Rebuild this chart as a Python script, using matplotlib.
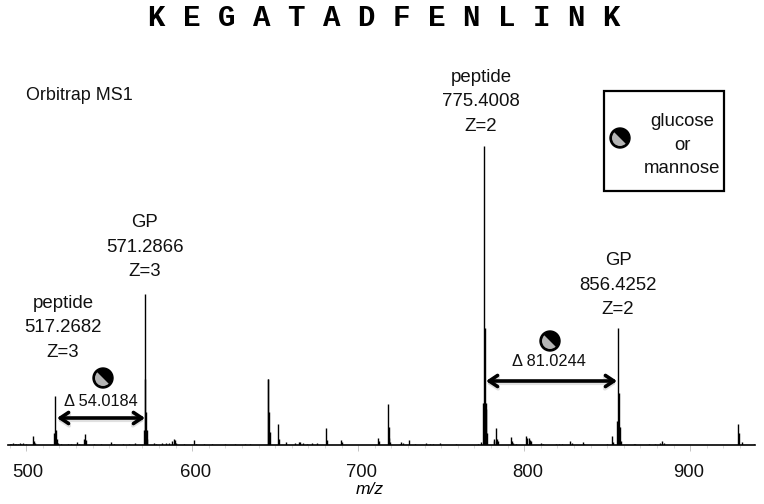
import matplotlib
matplotlib.use("Agg")
import matplotlib.pyplot as plt
from matplotlib.patches import Circle, Wedge, Rectangle
from matplotlib.transforms import ScaledTranslation

plt.rcParams['font.family'] = ['Liberation Sans', 'DejaVu Sans']

# peaks, intensity relative to the base peak
mz = [490, 491, 492, 493, 494, 495, 496, 497, 498, 500, 504, 504.6, 505.2,
      516.9, 517.27, 517.8, 518.3, 519, 521, 525, 527, 530.3, 532, 535, 535.4, 535.9,
      541, 545, 551, 553, 558, 562, 565.5, 570.9, 571.29, 571.7, 572.1, 572.5, 573, 577, 578, 582, 584, 586,
      588, 588.8, 589.4, 590, 595, 601, 602, 607, 612, 620, 626, 632, 635,
      645.4, 645.8, 646.2, 646.6, 651.5, 652, 656.5, 662, 664, 665, 667, 669, 672, 675,
      680.3, 681.3, 689.6, 690.2, 711.9, 712.5, 717.9, 718.3, 718.7, 719.1,
      725, 726, 727, 730.5, 734, 741, 743, 745, 749, 759,
      772, 774, 775.2, 775.6, 776, 776.4, 776.8, 777.2, 777.6,
      781.5, 782, 782.8, 783.3, 784, 791.8, 792.5, 793, 795, 800.8, 801.5, 802.8, 803.5, 804,
      810, 811, 819, 821, 823, 827.6, 828.5, 835.4, 836, 850, 852.6, 853.6,
      856.1, 856.5, 856.9, 857.3, 857.7, 858.2, 866, 867, 875, 879, 882, 883, 884,
      928.5, 929.5, 931, 938.3]
intensity = [0.5, 0.4, 0.6, 0.4, 0.5, 0.4, 0.7, 0.4, 0.6, 0.4, 3.0, 1.2, 0.6,
             4.0, 16.3, 5.0, 2.0, 0.8, 0.4, 0.5, 0.4, 1.0, 0.5, 2.0, 3.7, 1.8,
             0.4, 0.4, 1.0, 0.4, 0.4, 0.4, 0.8, 5.0, 50.5, 22.0, 11.0, 5.0, 2.0, 0.6, 0.5, 0.7, 0.8, 0.7,
             1.2, 2.0, 1.6, 0.8, 0.4, 1.7, 0.4, 0.4, 0.4, 0.4, 0.3, 0.5, 0.3,
             22.0, 22.0, 11.0, 4.5, 7.0, 2.0, 1.0, 0.7, 0.9, 0.9, 0.8, 0.5, 0.6, 0.6,
             5.6, 1.8, 1.7, 1.0, 2.3, 1.2, 13.8, 6.0, 2.5, 1.0,
             0.5, 1.0, 0.7, 1.7, 0.3, 0.6, 0.4, 0.4, 0.6, 0.4,
             0.5, 1.0, 14.0, 14.0, 100, 39.0, 14.0, 12.0, 4.0,
             1.5, 2.0, 5.6, 2.0, 1.2, 2.7, 1.5, 0.8, 0.4, 3.0, 2.2, 2.4, 1.8, 1.2,
             0.6, 0.4, 0.4, 0.4, 0.4, 1.4, 0.8, 1.0, 0.4, 0.5, 3.0, 1.0,
             8.0, 39.0, 17.5, 6.0, 6.0, 1.5, 0.4, 0.4, 0.4, 0.4, 0.6, 1.2, 0.7,
             7.0, 4.0, 1.0, 0.5]

tick_values = [500, 600, 700, 800, 900]
minor_ticks = list(range(490, 940, 10))
title_text = "K E G A T A D F E N L I N K"
labels_peak = ["peptide\n775.4008\nZ=2", "GP\n571.2866\nZ=3", "peptide\n517.2682\nZ=3", "GP\n856.4252\nZ=2"]
delta_labels = ["\u0394 54.0184", "\u0394 81.0244"]

W, H = 764, 504
fig = plt.figure(figsize=(W / 100, H / 100), dpi=100)

# spectrum axes: 489-939 over x=8..755 px, baseline at y=445, base peak at y=146
ax = fig.add_axes([8 / W, (H - 445) / H, 747 / W, 299 / H])
ax.vlines(mz, 0, intensity, color='black', lw=1.0)
ax.set_xlim(489, 939)
ax.set_ylim(0, 100)
ax.patch.set_alpha(0)
for s in ['top', 'left', 'right']:
    ax.spines[s].set_visible(False)
ax.spines['bottom'].set_linewidth(1.2)
ax.set_yticks([])
ax.set_xticks(tick_values)
ax.set_xticks(minor_ticks, minor=True)
ax.set_xticklabels([str(t) for t in tick_values], fontsize=13.3, color='#111111')
ax.tick_params(axis='x', which='major', length=4, width=0.6, color='#bbbbbb', pad=10)
ax.tick_params(axis='x', which='minor', length=2, width=0.5, color='#cccccc')
# the labels sit a little off their ticks in the original
for lab, dx in zip(ax.get_xticklabels(), [2, 3, 3, 3, -2]):
    lab.set_transform(lab.get_transform() + ScaledTranslation(dx / 100, 0, fig.dpi_scale_trans))

# overlay in image pixels for the annotations
ov = fig.add_axes([0, 0, 1, 1])
ov.set_xlim(0, W)
ov.set_ylim(H, 0)
ov.axis('off')


def sugar(x, y, r=10):
    ov.add_patch(Circle((x, y), r, fc='black', ec='black', zorder=5))
    ov.add_patch(Wedge((x, y), r - 2, 45, 225, fc='#b5b5b5', ec='none', zorder=6))


def arrow(x0, x1, y):
    style = '<->,head_length=0.6,head_width=0.4'
    ov.annotate('', xy=(x1, y + 2), xytext=(x0, y + 2),
                arrowprops=dict(arrowstyle=style, lw=3, color='#cccccc', shrinkA=0, shrinkB=0, alpha=0.6))
    ov.annotate('', xy=(x1, y), xytext=(x0, y),
                arrowprops=dict(arrowstyle=style, lw=2.6, color='black', shrinkA=0, shrinkB=0))


ov.text(384.5, 18, title_text, ha='center', va='center', fontsize=21, fontweight='bold',
        family='Liberation Mono')
ov.text(26, 95, "Orbitrap MS1", ha='left', va='center', fontsize=12.9, color='#111111')

for txt, x, y in zip(labels_peak, [481, 145, 63, 618], [102, 247, 328, 285]):
    ov.text(x, y, txt, ha='center', va='center', fontsize=13.4, linespacing=1.55, color='#111111')

ov.add_patch(Rectangle((604, 91), 120, 100, fc='white', ec='black', lw=1.6))
ov.text(682, 145, "glucose\nor\nmannose", ha='center', va='center', fontsize=13.4, linespacing=1.48,
        color='#111111')
sugar(620, 138)

arrow(57, 145, 418)
sugar(103, 378)
ov.text(101, 402, delta_labels[0], ha='center', va='center', fontsize=11.8, color='#111111')

arrow(486, 617, 381)
sugar(550, 341)
ov.text(549, 361, delta_labels[1], ha='center', va='center', fontsize=11.8, color='#111111')

ov.text(370, 489, "m/z", ha='center', va='center', fontsize=12.5, style='italic')

fig.savefig("out.png", dpi=100)
